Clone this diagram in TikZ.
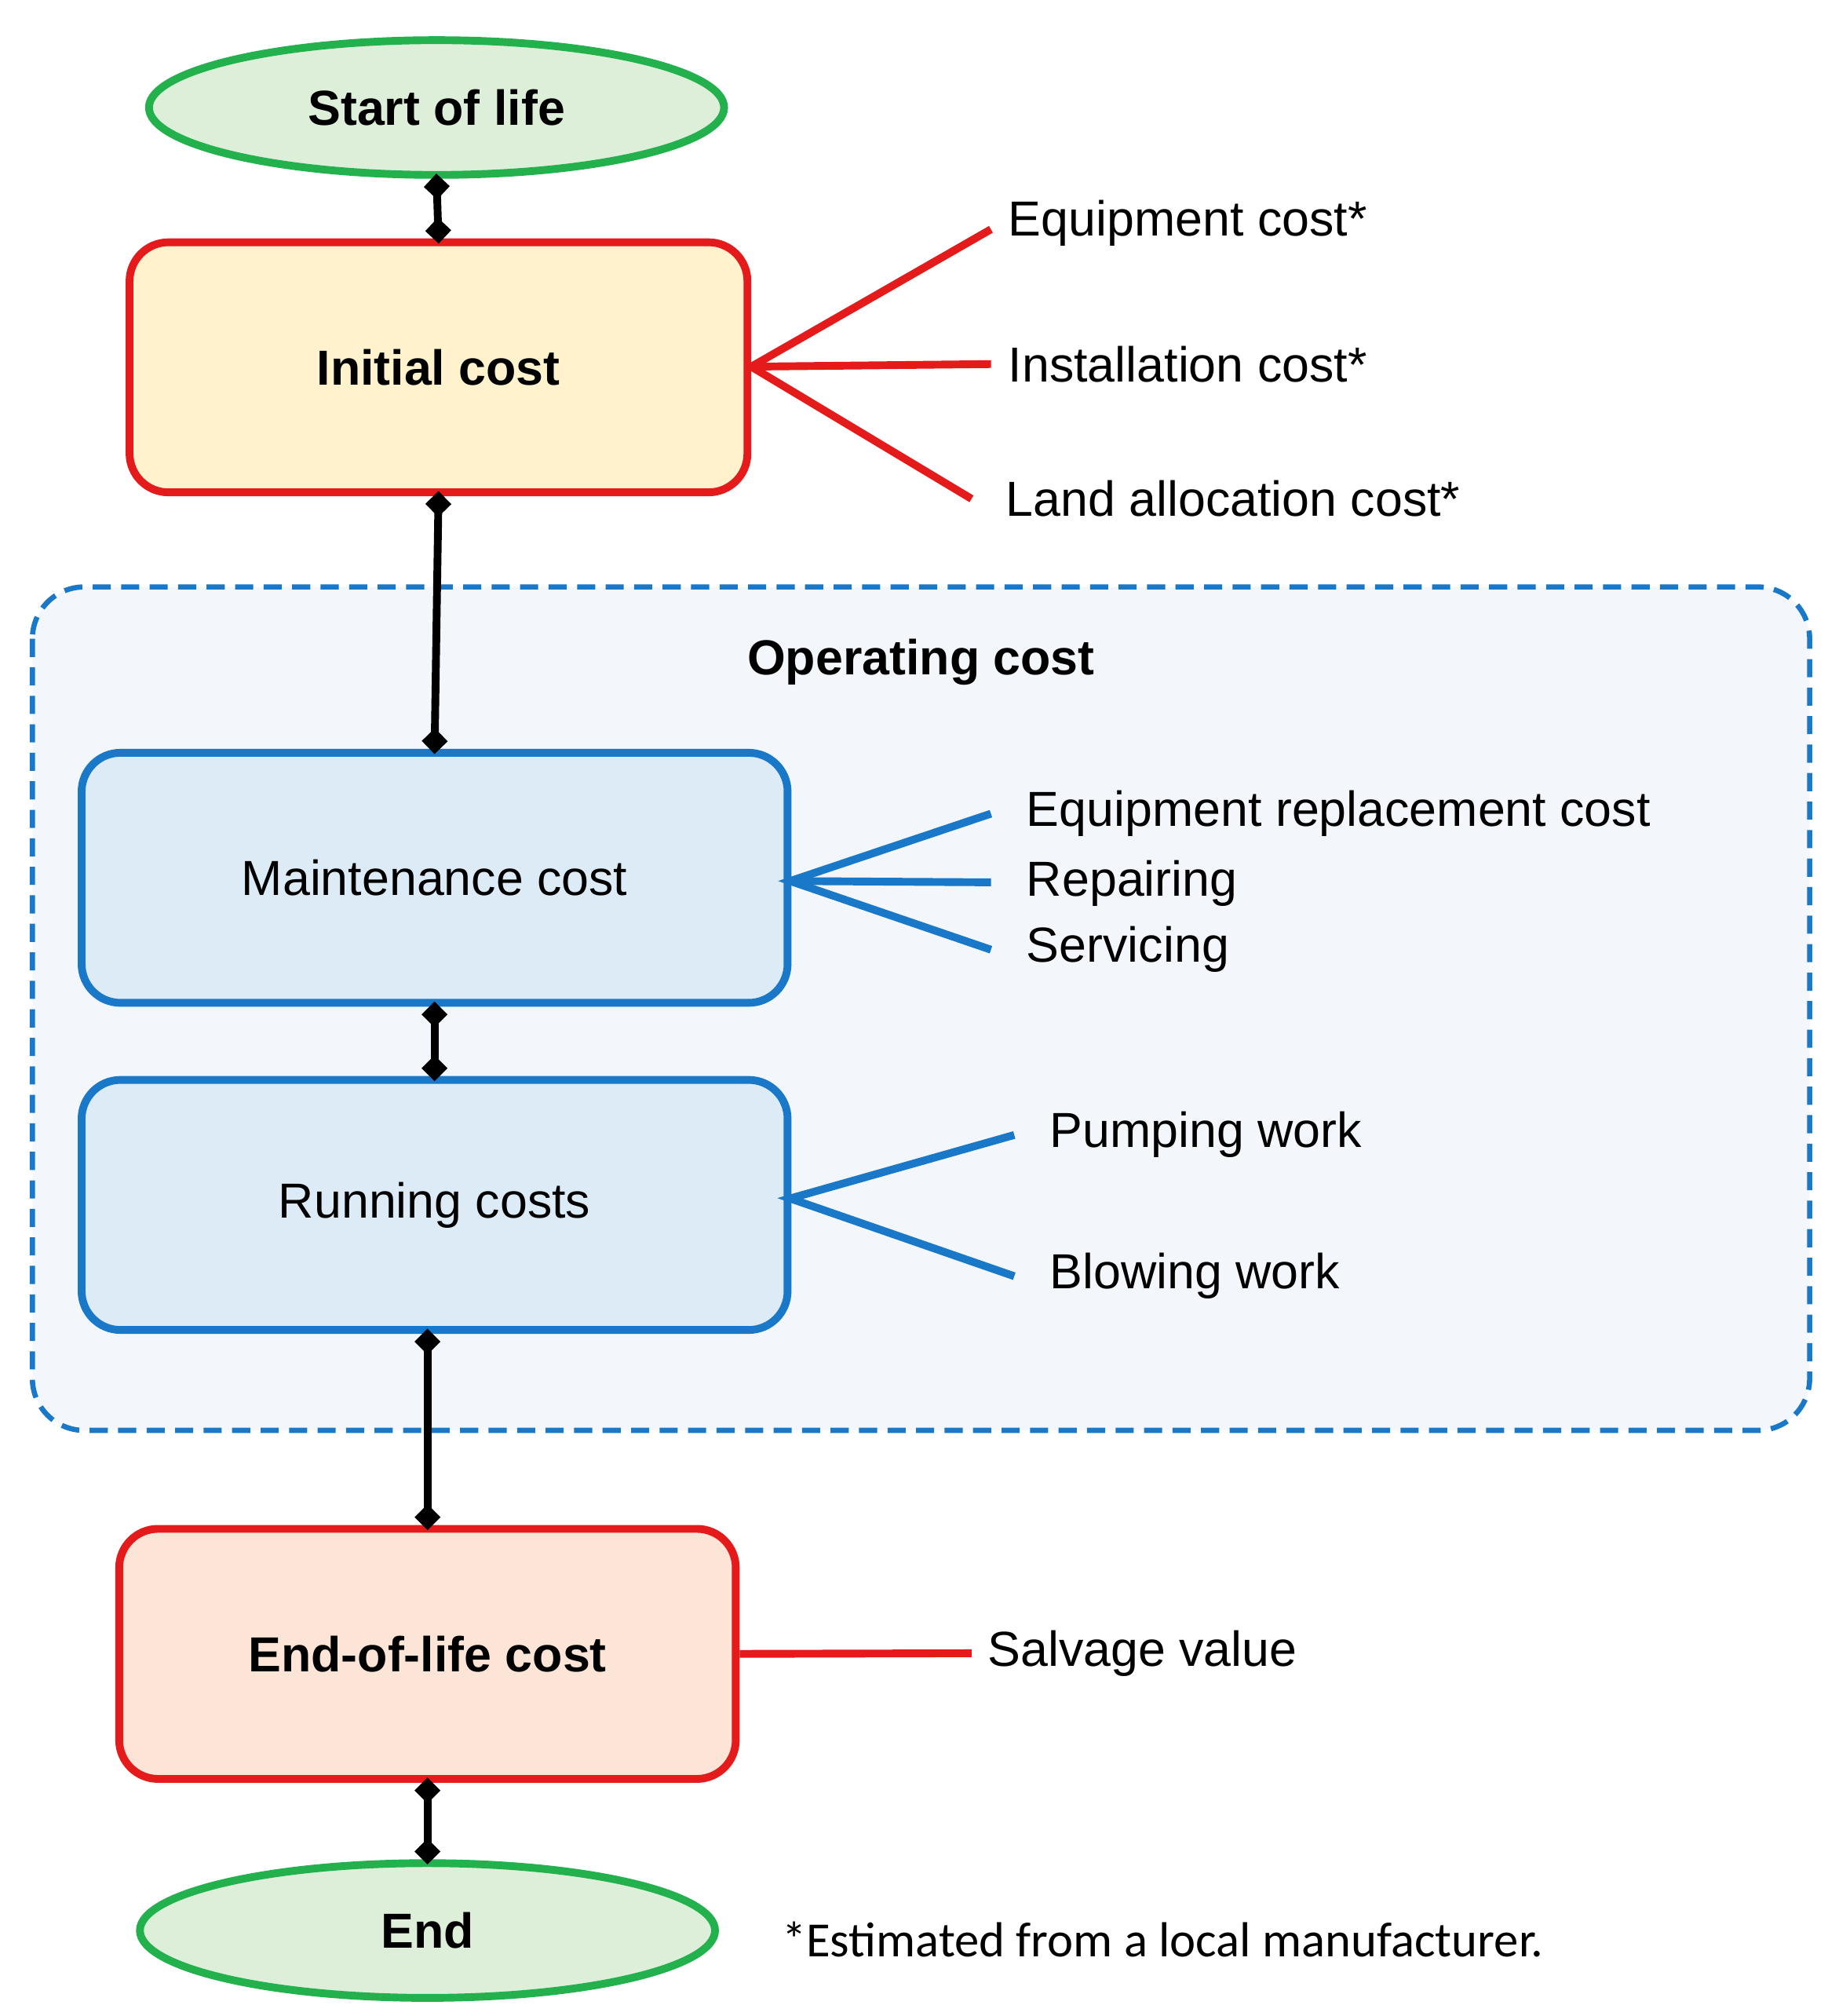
\documentclass[tikz,border=0pt]{standalone}
\usepackage{fontspec}
\setmainfont{Liberation Sans}
\newfontfamily\notefont{Carlito}
\usetikzlibrary{shapes.geometric,arrows.meta}
\definecolor{gst}{HTML}{22B14C}\definecolor{gfill}{HTML}{DDEFD9}
\definecolor{rst}{HTML}{E51A1A}\definecolor{yfill}{HTML}{FFF2CC}
\definecolor{bst}{HTML}{1A78C8}\definecolor{bfill}{HTML}{DDEBF7}
\definecolor{ofill}{HTML}{F3F6FB}\definecolor{pfill}{HTML}{FCE4D6}
\begin{document}
\begin{tikzpicture}[x=1pt,y=-1pt,
 every node/.style={font=\fontsize{38}{44}\selectfont},
 ell/.style={ellipse,draw=gst,fill=gfill,line width=6pt,minimum width=444pt,minimum height=104pt,font=\fontsize{38}{44}\selectfont\bfseries},
 box/.style={rounded corners=30pt,line width=6pt,minimum height=193pt},
 rbox/.style={box,draw=rst},
 bbox/.style={box,draw=bst,fill=bfill,minimum width=545pt},
 conn/.style={line width=6pt,{Diamond[length=20pt,width=20pt]}-{Diamond[length=20pt,width=20pt]},shorten <=-4pt,shorten >=-4pt},
 rl/.style={draw=rst,line width=6pt},
 bl/.style={draw=bst,line width=6pt},
 lab/.style={anchor=west}]
\useasboundingbox (0,0) rectangle (1411,1556);
\draw[bst,dashed,line width=4pt,dash pattern=on 14pt off 8pt,fill=ofill,rounded corners=40pt] (25,453) rectangle (1397,1104);
\node[ell] (start) at (337,83) {Start of life};
\node[rbox,fill=yfill,minimum width=477pt,font=\fontsize{38}{44}\selectfont\bfseries] (init) at (338.5,283.5) {Initial cost};
\node[font=\fontsize{38}{44}\selectfont\bfseries] (op) at (711,511) {Operating cost};
\node[bbox] (maint) at (335.5,677.5) {Maintenance cost};
\node[bbox] (run) at (335.5,930) {Running costs};
\node[rbox,fill=pfill,minimum width=476pt,font=\fontsize{38}{44}\selectfont\bfseries] (eol) at (330,1276.5) {End-of-life cost};
\node[ell] (end) at (330,1490) {End};
% connectors
\draw[conn] (start.south) -- (init.north);
\draw[conn] (init.south) -- (maint.north);
\draw[conn] (maint.south) -- (run.south|-run.north);
\draw[conn] (run.south-|eol.north) -- (eol.north);
\draw[conn] (eol.south) -- (end.north);
% initial cost branches
\coordinate (i0) at (580,283);
\node[lab] (e1) at (775,172) {Equipment cost*};
\node[lab] (e2) at (775,281) {Installation cost*};
\node[lab] (e3) at (773,385) {Land allocation cost*};
\draw[rl] (765,177) -- (i0) -- (750,385);
\draw[rl] (i0) -- (765,281);
% maintenance branches
\coordinate (m0) at (610,680);
\node[lab] (m1) at (789,628) {Equipment replacement cost};
\node[lab] (m2) at (789,682) {Repairing};
\node[lab] (m3) at (789,733) {Servicing};
\draw[bl] (765,628) -- (m0) -- (765,733);
\draw[bl] (m0) -- (765,681);
% running branches
\coordinate (r0) at (610,925);
\node[lab] (r1) at (807,876) {Pumping work};
\node[lab] (r2) at (807,985) {Blowing work};
\draw[bl] (783,876) -- (r0) -- (783,985);
% end of life
\node[lab] (s1) at (759,1276) {Salvage value};
\draw[rl] (eol.east) -- (750,1276);
\node[lab,font=\fontsize{38}{44}\selectfont\notefont] (note) at (600,1497) {*Estimated from a local manufacturer.};
\end{tikzpicture}
\end{document}
